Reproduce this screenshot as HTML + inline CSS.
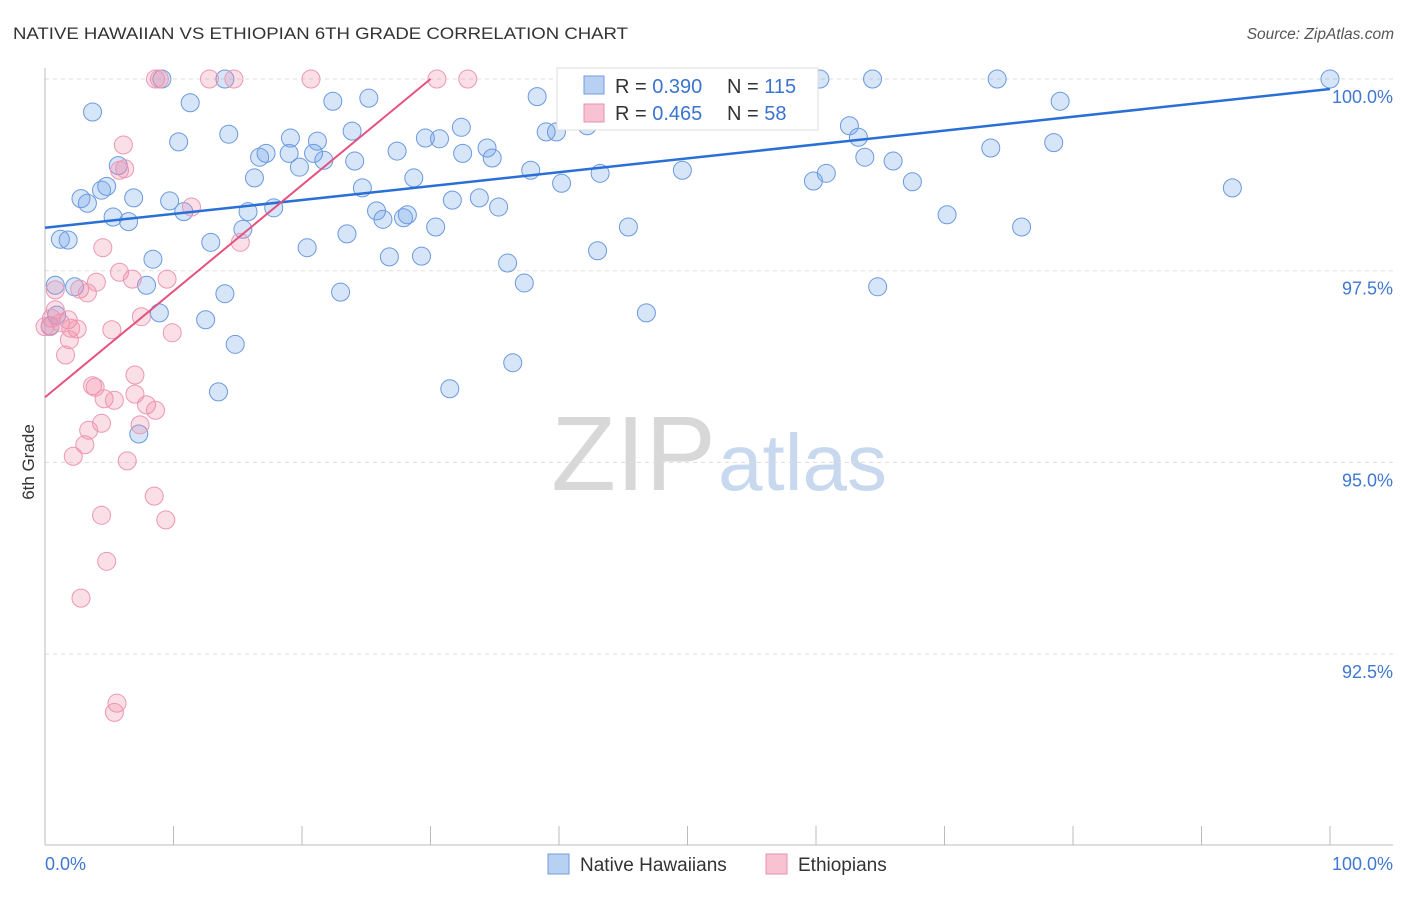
<!DOCTYPE html>
<html><head><meta charset="utf-8"><style>
body{margin:0;background:#fff;font-family:"Liberation Sans",sans-serif}
svg text{font-family:"Liberation Sans",sans-serif}
</style></head><body>
<svg id="chart" width="1406" height="892">
<text x="13" y="39" font-size="17" fill="#333" textLength="615" lengthAdjust="spacingAndGlyphs">NATIVE HAWAIIAN VS ETHIOPIAN 6TH GRADE CORRELATION CHART</text>
<text x="1394" y="39" font-size="15.5" fill="#555" font-style="italic" text-anchor="end">Source: ZipAtlas.com</text>
<text x="0" y="0" transform="translate(34,462) rotate(-90)" font-size="17" fill="#333" text-anchor="middle">6th Grade</text>
<text x="716" y="490" font-size="106" fill="#d8d8d8" text-anchor="end" font-family="Liberation Serif">ZIP</text>
<text x="718" y="490" font-size="80" fill="#c8d8ef">atlas</text>
<g id="grid"></g><g id="axes"></g><g id="pts"></g><g id="trend"></g>
<g>
<rect x="557" y="68" width="261" height="62" fill="#fff" stroke="#ddd"/>
<rect x="584" y="76" width="20" height="18" fill="#b8d0f2" stroke="#6f9de0"/>
<rect x="584" y="104" width="20" height="18" fill="#f7c3d3" stroke="#e98fae"/>
<text x="615" y="93" font-size="20" fill="#333">R = <tspan fill="#3a74d0">0.390</tspan></text>
<text x="727" y="93" font-size="20" fill="#333">N = <tspan fill="#3a74d0">115</tspan></text>
<text x="615" y="120" font-size="20" fill="#333">R = <tspan fill="#3a74d0">0.465</tspan></text>
<text x="727" y="120" font-size="20" fill="#333">N = <tspan fill="#3a74d0"> 58</tspan></text>
</g>
<g><rect x="548" y="854" width="21" height="20" fill="#b8d0f2" stroke="#6f9de0"/><text x="580" y="871" font-size="19" fill="#333">Native Hawaiians</text></g>
<g><rect x="766" y="854" width="21" height="20" fill="#f7c3d3" stroke="#e98fae"/><text x="798" y="871" font-size="19" fill="#333">Ethiopians</text></g>
</svg>
<script>
const yTicks=[100,97.5,95,92.5];
const yTickLabels=["100.0%","97.5%","95.0%","92.5%"];
const xTicks=[0,10,20,30,40,50,60,70,80,90,100];
const blueX=[3.7,11.3,14.0,9.1,22.4,25.2,10.4,14.3,19.1,21.2,23.9,16.7,17.2,19.0,20.9,21.7,19.8,24.1,27.4,29.6,30.7,32.4,32.5,34.4,34.8,38.3,39.0,39.8,42.2,41.5,43.5,46.3,52.0,59.2,60.3,64.4,74.1,100,79.0,78.5,73.6,62.6,63.3,63.8,66.0,67.5,60.8,59.8,49.6,43.2,40.2,37.8,28.7,24.7,31.7,33.8,35.3,25.8,26.3,27.9,28.2,30.4,23.5,20.4,26.8,29.3,36.0,37.3,23.0,43.0,45.4,70.2,76.0,92.4,64.8,46.8,36.4,31.5,13.5,14.8,12.5,14.0,8.9,7.9,8.4,12.9,15.4,15.8,17.8,16.3,10.8,9.7,6.9,6.5,5.3,4.4,4.8,2.8,3.3,5.7,1.2,1.8,0.8,2.3,0.9,7.3,0.4,48.4];
const blueY=[99.57,99.69,100,100,99.71,99.75,99.18,99.28,99.23,99.19,99.32,98.98,99.03,99.03,99.03,98.94,98.85,98.93,99.06,99.23,99.22,99.37,99.03,99.10,98.97,99.77,99.31,99.31,99.39,100,99.62,100,100,100,100,100,100,100,99.71,99.17,99.10,99.39,99.24,98.98,98.93,98.66,98.77,98.67,98.81,98.77,98.64,98.81,98.71,98.58,98.42,98.45,98.33,98.28,98.17,98.19,98.23,98.07,97.98,97.80,97.68,97.69,97.60,97.34,97.22,97.76,98.07,98.23,98.07,98.58,97.29,96.95,96.30,95.96,95.92,96.54,96.86,97.20,96.95,97.31,97.65,97.87,98.04,98.27,98.32,98.71,98.27,98.41,98.45,98.14,98.20,98.55,98.60,98.44,98.38,98.87,97.91,97.90,97.31,97.29,96.92,95.37,96.78,100];
const pinkX=[8.6,8.9,12.8,14.7,20.7,30.5,32.9,6.1,6.2,5.8,11.4,4.5,15.2,5.8,6.8,4.0,9.5,2.7,3.3,0.8,0.8,5.2,7.5,9.9,0.5,1.2,0.4,1.8,2.0,2.5,1.9,1.6,7.0,3.7,3.9,4.6,7.0,5.4,7.9,8.6,7.4,4.4,3.4,3.1,2.2,6.4,8.5,9.4,4.4,4.8,2.8,5.6,5.4,0];
const pinkY=[100,100,100,100,100,100,100,99.14,98.83,98.81,98.33,97.80,97.87,97.48,97.39,97.35,97.39,97.26,97.21,97.25,96.99,96.73,96.90,96.69,96.88,96.82,96.77,96.86,96.75,96.74,96.60,96.40,96.14,96.00,95.98,95.83,95.89,95.81,95.75,95.68,95.49,95.51,95.42,95.23,95.08,95.02,94.56,94.25,94.31,93.71,93.23,91.86,91.74,96.77];
const blueTrendX=[0,100], blueTrendY=[98.06,99.87];
const pinkTrendX=[0,30], pinkTrendY=[95.85,100];
const NS="http://www.w3.org/2000/svg";
const sx=v=>45+v*12.85, sy=v=>79+(100-v)*76.68;
function mk(p,t,a){const e=document.createElementNS(NS,t);for(const k in a)e.setAttribute(k,a[k]);p.appendChild(e);return e;}
const grid=document.getElementById('grid'),axes=document.getElementById('axes'),pts=document.getElementById('pts'),trend=document.getElementById('trend');
yTicks.forEach((v,i)=>{
 const l=mk(grid,'line',{x1:45,x2:1393,y1:sy(v),y2:sy(v),stroke:'#ddd','stroke-dasharray':'4,4'});
 
 
 const t=mk(axes,'text',{x:1393,y:sy(v)+24,'font-size':18,fill:'#3f78d0','text-anchor':'end'});t.textContent=yTickLabels[i];
 
 
});
const ya=mk(axes,'line',{x1:45,x2:45,y1:68,y2:845,stroke:'#bbb'});


const xa=mk(axes,'line',{x1:45,x2:1393,y1:845,y2:845,stroke:'#bbb'});


xTicks.forEach(v=>{const t=mk(axes,'line',{x1:sx(v),x2:sx(v),y1:826,y2:845,stroke:'#bbb'});
 
 });
const xl0=mk(axes,'text',{x:45,y:870,'font-size':18,fill:'#3f78d0'});xl0.textContent='0.0%';


const xl1=mk(axes,'text',{x:1393,y:870,'font-size':18,fill:'#3f78d0','text-anchor':'end'});xl1.textContent='100.0%';


blueX.forEach((x,i)=>{const c=mk(pts,'circle',{cx:sx(x),cy:sy(blueY[i]),r:9,fill:'rgba(110,160,230,0.28)',stroke:'#6a9ae0','stroke-width':1});
 
 });
pinkX.forEach((x,i)=>{const c=mk(pts,'circle',{cx:sx(x),cy:sy(pinkY[i]),r:9,fill:'rgba(240,140,170,0.28)',stroke:'#ec97b3','stroke-width':1});
 
 });
const bt=mk(trend,'line',{x1:sx(blueTrendX[0]),y1:sy(blueTrendY[0]),x2:sx(blueTrendX[1]),y2:sy(blueTrendY[1]),stroke:'#2a6fd6','stroke-width':2.5});


const pt=mk(trend,'line',{x1:sx(pinkTrendX[0]),y1:sy(pinkTrendY[0]),x2:sx(pinkTrendX[1]),y2:sy(pinkTrendY[1]),stroke:'#e5527f','stroke-width':2});


</script>
</body></html>
